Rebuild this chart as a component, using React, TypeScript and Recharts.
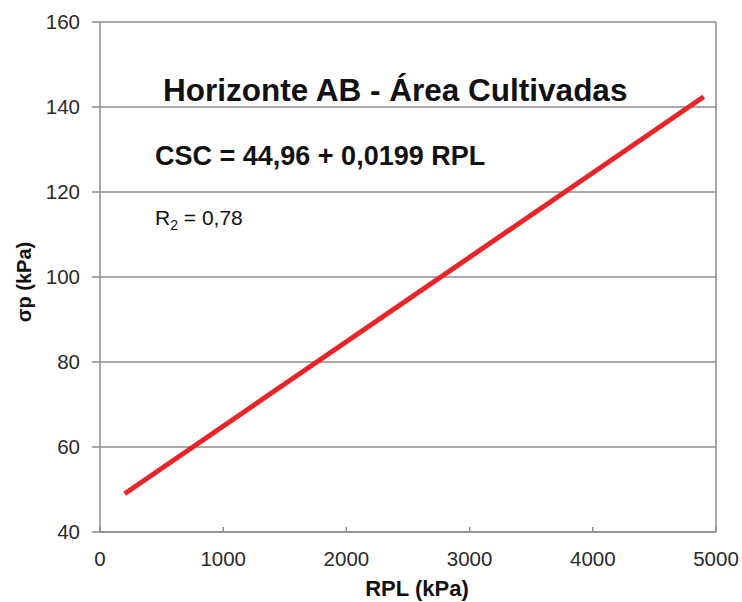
import { LineChart, Line, XAxis, YAxis, CartesianGrid, ReferenceLine } from 'recharts'

// RPL (kPa) vs σp (kPa), fitted line CSC = 44,96 + 0,0199 RPL
const rplValues = [200, 4900]
const cscValues = [49, 142.4]
const xTicks = [0, 1000, 2000, 3000, 4000, 5000]
const yTicks = [40, 60, 80, 100, 120, 140, 160]

const series = rplValues.map((rpl, i) => ({ rpl, csc: cscValues[i] }))

const FONT = '"Liberation Sans", Arial, sans-serif'
const GRID = '#8c8c8c'

export default function App() {
  return (
    <div style={{ position: 'absolute', left: 0, top: 0, width: 742, height: 602, background: '#fff' }}>
      <LineChart width={742} height={602} data={series}
        margin={{ top: 22, right: 26, bottom: 40, left: 30 }}>
        <CartesianGrid vertical={false} stroke={GRID} strokeWidth={1.5} />
        <XAxis dataKey="rpl" type="number" domain={[0, 5000]} ticks={xTicks} height={30}
          stroke={GRID} strokeWidth={1.5} tickSize={-5} tickMargin={24}
          tick={{ fontSize: 20.5, fill: '#2a2a2a', fontFamily: FONT }} />
        <YAxis type="number" domain={[40, 160]} ticks={yTicks} width={70}
          stroke={GRID} strokeWidth={1.5} tickSize={8} tickMargin={12}
          tick={{ fontSize: 20.5, fill: '#2a2a2a', fontFamily: FONT }} />
        <ReferenceLine x={5000} stroke={GRID} strokeWidth={1.5} />
        <Line dataKey="csc" stroke="#e8262a" strokeWidth={5} dot={false}
          type="linear" isAnimationActive={false} />
      </LineChart>
      <svg width={742} height={602} style={{ position: 'absolute', left: 0, top: 0, pointerEvents: 'none' }}
        fontFamily={FONT}>
        <text x={163} y={101} fontSize={31.5} fontWeight="bold" fill="#111">Horizonte AB - Área Cultivadas</text>
        <text x={155} y={165} fontSize={27} fontWeight="bold" fill="#111">CSC = 44,96 + 0,0199 RPL</text>
        <text x={155} y={225} fontSize={21} fill="#111">
          R<tspan fontSize={14} dy={5}>2</tspan><tspan dy={-5}> = 0,78</tspan>
        </text>
        <text x={24} y={282} fontSize={20} fontWeight="bold" fill="#111" textAnchor="middle"
          dominantBaseline="central" transform="rotate(-90 24 282)">σp (kPa)</text>
        <text x={417} y={596} fontSize={22} fontWeight="bold" fill="#111" textAnchor="middle">RPL (kPa)</text>
      </svg>
    </div>
  )
}
